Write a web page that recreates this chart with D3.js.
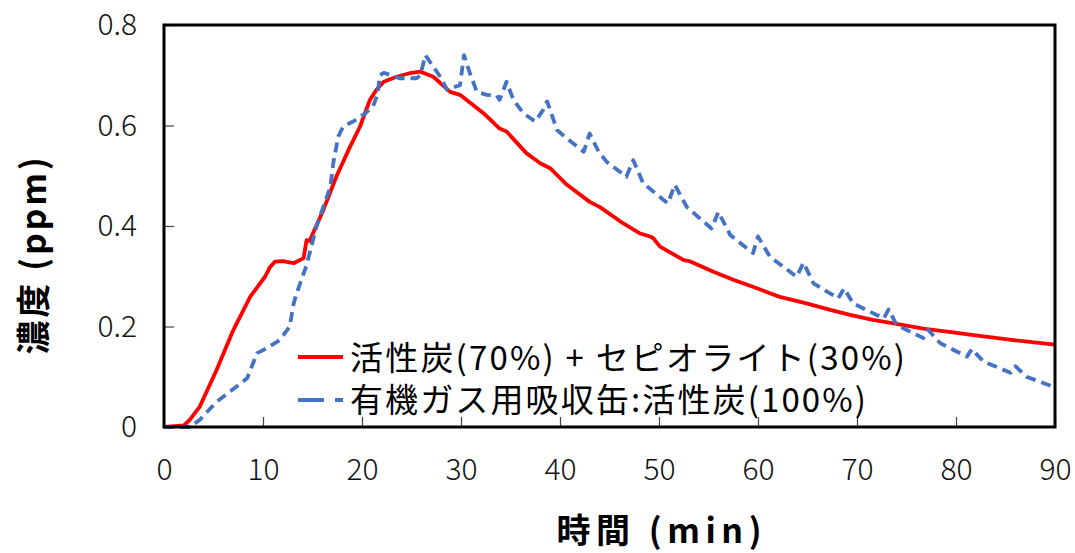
<!DOCTYPE html>
<meta charset="utf-8">
<style>
body { margin: 0; background: #fff; }
.tick line { stroke: #444; stroke-width: 1.2; }
.tick text { font-family: "Noto Sans CJK JP", sans-serif; font-weight: 300; font-size: 30px; fill: #111; }
.title { font-family: "Noto Sans CJK JP", sans-serif; font-weight: bold; font-size: 34px; fill: #000; }
.legend text { font-family: "Noto Sans CJK JP", sans-serif; font-size: 33px; fill: #000; }
</style>
<body>
<svg width="1075" height="553"></svg>
<script src="https://cdn.jsdelivr.net/npm/d3@7"></script>
<script>

// series: time (min) / concentration (ppm)
var redTime = [0, 2, 2.6, 3.6, 5.3, 7.0, 8.7, 10.2, 10.7, 11.2, 12.0, 13.1, 14.1, 14.4, 14.7, 16.1, 17.4, 18.8, 19.8, 20.8, 21.5, 22.2, 23.5, 24.8, 25.9, 27.2, 28.9, 29.9, 32.3, 33.9, 34.6, 36.6, 38.0, 39.0, 40.7, 43.0, 44.0, 46.4, 48.1, 49.1, 49.4, 50.1, 52.5, 53.1, 55.5, 57.5, 59.9, 62.2, 64.9, 67.3, 69.3, 71.6, 74.0, 76.7, 79.1, 81.8, 85.8, 90];
var redPpm = [0, 0.003, 0.014, 0.04, 0.113, 0.193, 0.259, 0.299, 0.318, 0.329, 0.33, 0.326, 0.336, 0.372, 0.37, 0.432, 0.498, 0.558, 0.598, 0.651, 0.672, 0.687, 0.697, 0.704, 0.707, 0.697, 0.667, 0.661, 0.624, 0.594, 0.588, 0.545, 0.525, 0.515, 0.482, 0.448, 0.438, 0.405, 0.385, 0.379, 0.376, 0.359, 0.332, 0.33, 0.309, 0.293, 0.276, 0.259, 0.246, 0.233, 0.223, 0.213, 0.205, 0.196, 0.19, 0.183, 0.173, 0.164];

var blueTime = [0, 2.6, 3.6, 5.3, 7.3, 8.4, 9.4, 10.4, 11.7, 12.7, 13.1, 13.4, 14.4, 15.4, 16.8, 17.1, 17.6, 18.1, 19.1, 20.1, 21.1, 21.6, 21.8, 22.2, 23.8, 25.5, 25.9, 26.4, 27.2, 27.9, 28.6, 29.1, 29.9, 30.3, 30.9, 31.6, 32.6, 33.6, 33.9, 34.6, 35.3, 36.3, 37.5, 38.3, 38.7, 39.7, 40.7, 42.4, 43.0, 43.9, 44.7, 46.7, 47.4, 48.4, 50.9, 51.6, 52.8, 55.3, 56.0, 57.2, 59.5, 60.0, 61.2, 63.9, 64.6, 65.6, 68.1, 68.7, 69.6, 72.7, 73.2, 74.0, 76.7, 77.2, 78.4, 81.1, 81.6, 82.8, 85.5, 86.0, 87.1, 90];
var bluePpm = [0, 0, 0.014, 0.05, 0.08, 0.097, 0.147, 0.157, 0.173, 0.2, 0.246, 0.266, 0.322, 0.399, 0.478, 0.525, 0.578, 0.598, 0.608, 0.621, 0.637, 0.664, 0.70, 0.705, 0.694, 0.694, 0.70, 0.74, 0.717, 0.697, 0.671, 0.675, 0.68, 0.74, 0.704, 0.667, 0.661, 0.66, 0.651, 0.687, 0.651, 0.624, 0.608, 0.631, 0.648, 0.591, 0.574, 0.548, 0.584, 0.548, 0.528, 0.498, 0.531, 0.485, 0.445, 0.482, 0.438, 0.395, 0.428, 0.382, 0.346, 0.379, 0.339, 0.299, 0.327, 0.286, 0.256, 0.276, 0.246, 0.216, 0.234, 0.203, 0.177, 0.193, 0.167, 0.14, 0.155, 0.13, 0.108, 0.121, 0.10, 0.079];

var seriesNames = ["活性炭(70%) + セピオライト(30%)", "有機ガス用吸収缶:活性炭(100%)"];
var xTicks = [0, 10, 20, 30, 40, 50, 60, 70, 80, 90];
var yTicks = [0, 0.2, 0.4, 0.6, 0.8];

var svg = d3.select("svg");
var mLeft = 164, mRight = 1055, mTop = 25, mBottom = 427;

var x = d3.scaleLinear().domain([0, 90]).range([mLeft, mRight]);
var y = d3.scaleLinear().domain([0, 0.8]).range([mBottom, mTop]);

svg.append("g")
    .attr("transform", "translate(" + mLeft + ",0)")
    .call(d3.axisLeft(y).tickValues(yTicks).tickSize(-10).tickPadding(27)
      .tickFormat(function(d) { return d === 0 ? "0" : d3.format(".1f")(d); }))
  .select(".domain").remove();

svg.append("g")
    .attr("transform", "translate(0," + mBottom + ")")
    .call(d3.axisBottom(x).tickValues(xTicks).tickSize(-10).tickPadding(32))
  .select(".domain").remove();

var line = d3.line()
    .x(function(d) { return x(d[0]); })
    .y(function(d) { return y(d[1]); });

svg.append("path")
    .datum(redTime.map(function(t, i) { return [t, redPpm[i]]; }))
    .attr("fill", "none")
    .attr("stroke", "#ff0000")
    .attr("stroke-width", 3.8)
    .attr("stroke-linejoin", "round")
    .attr("d", line);

svg.append("path")
    .datum(blueTime.map(function(t, i) { return [t, bluePpm[i]]; }))
    .attr("fill", "none")
    .attr("stroke", "#4472c4")
    .attr("stroke-width", 3.8)
    .attr("stroke-dasharray", "10,6")
    .attr("stroke-linejoin", "round")
    .attr("d", line);

// frame
svg.append("rect")
    .attr("x", mLeft).attr("y", mTop)
    .attr("width", mRight - mLeft).attr("height", mBottom - mTop)
    .attr("fill", "none")
    .attr("stroke", "#000")
    .attr("stroke-width", 3);

// legend
var lg = svg.append("g").attr("class", "legend");
lg.append("line").attr("x1", 298).attr("x2", 343).attr("y1", 357).attr("y2", 357)
    .attr("stroke", "#ff0000").attr("stroke-width", 3.8);
lg.append("line").attr("x1", 298).attr("x2", 343).attr("y1", 400).attr("y2", 400)
    .attr("stroke", "#4472c4").attr("stroke-width", 3.8).attr("stroke-dasharray", "26,11");
lg.append("text").attr("x", 350).attr("y", 370)
    .attr("textLength", 555).attr("lengthAdjust", "spacing").text(seriesNames[0]);
lg.append("text").attr("x", 350).attr("y", 412)
    .attr("textLength", 516).attr("lengthAdjust", "spacing").text(seriesNames[1]);

// axis titles
svg.append("text")
    .attr("class", "title")
    .attr("text-anchor", "middle")
    .attr("transform", "translate(46,256) rotate(-90)")
    .attr("textLength", 197).attr("lengthAdjust", "spacing")
    .text("濃度 (ppm)");

svg.append("text")
    .attr("class", "title")
    .attr("text-anchor", "middle")
    .attr("x", 659)
    .attr("y", 543)
    .attr("textLength", 205).attr("lengthAdjust", "spacing")
    .text("時間 (min)");

</script>
</body>
